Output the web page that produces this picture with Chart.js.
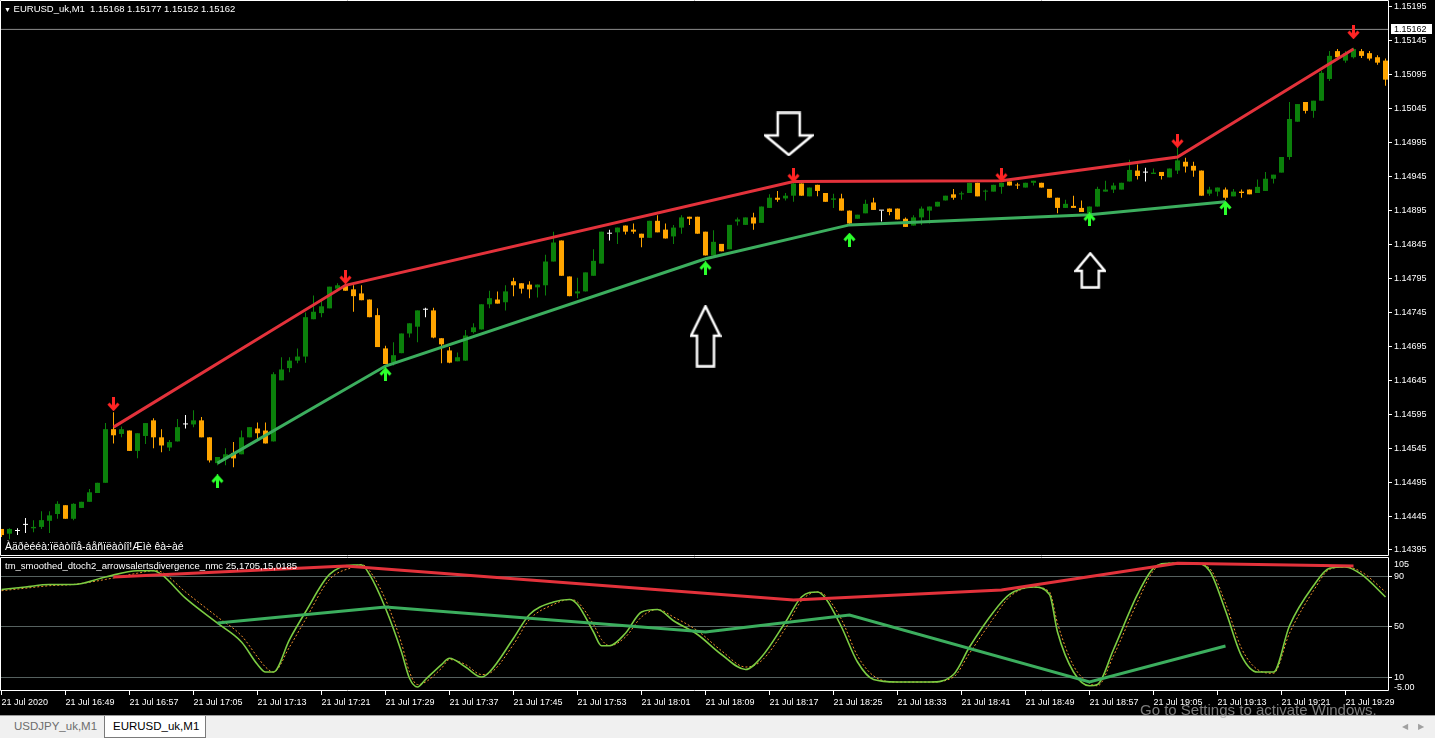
<!DOCTYPE html>
<html>
<head>
<meta charset="utf-8">
<script src="https://cdn.jsdelivr.net/npm/chart.js@4.4.1/dist/chart.umd.min.js"></script>
<style>
  html, body { margin: 0; padding: 0; background: #000; width: 1435px; height: 738px; overflow: hidden; font-family: "Liberation Sans", Arial, sans-serif; }
  canvas { position: absolute; left: 0; }
  #main { top: 0; }
  #osc { top: 557px; }
  .txt { position: absolute; color: #fff; font-size: 9.5px; line-height: 12px; white-space: pre; }
  #tabs { position: absolute; left: 0; top: 715px; width: 1435px; height: 23px; background: #f0f0f0; border-top: 1px solid #9a9a9a; box-sizing: border-box; }
  .tab { position: absolute; top: 0; height: 21px; font-size: 11.5px; line-height: 20px; padding: 0 8px; }
  #tab1 { left: 6px; color: #6d6d6d; }
  #tab2 { left: 104px; width: 84px; background: #fff; color: #000; border: 1px solid #7a7a7a; border-top: none; }
  #wm { position: absolute; left: 1140px; top: 701px; font-size: 15px; color: rgba(175,175,175,0.7); white-space: pre; }
  #scroll { position: absolute; left: 1402px; top: 722px; font-size: 8px; color: #a0a0a0; letter-spacing: 10px; }
</style>
</head>
<body>
<canvas id="main" width="1435" height="556"></canvas>
<canvas id="osc" width="1435" height="158"></canvas>
<div class="txt" style="left:4px;top:3px;"><span style="font-size:7px;">▼</span> EURUSD_uk,M1  1.15168 1.15177 1.15152 1.15162</div>
<div class="txt" style="left:5px;top:540px;font-size:10.5px;">Àäðèééà:ïëàòíîå-áåñïëàòíî!Æìè êà÷àé</div>
<div class="txt" style="left:5px;top:560px;">tm_smoothed_dtoch2_arrowsalertsdivergence_nmc 25,1705,15,0185</div>
<div id="tabs">
  <div class="tab" id="tab1">USDJPY_uk,M1</div>
  <div class="tab" id="tab2">EURUSD_uk,M1</div>
</div>
<div id="wm">Go to Settings to activate Windows.</div>
<div id="scroll">◀▶</div>
<script>
// one-minute candles, 21 Jul 2020 16:41 .. 19:34
const openPrice = [
  1.14426,1.14419,1.14423,1.14432,1.14427,1.14429,1.14438,1.14448,1.14461,1.14441,
  1.14457,1.14466,1.14479,1.14494,1.14573,1.14566,1.14571,1.14541,1.14563,1.14586,
  1.14561,1.14546,1.14555,1.14580,1.14580,1.14586,1.14561,1.14523,1.14529,1.14538,
  1.14536,1.14561,1.14574,1.14571,1.14555,1.14645,1.14663,1.14674,1.14680,1.14735,
  1.14744,1.14751,1.14780,1.14785,1.14779,1.14773,1.14764,1.14741,1.14692,1.14671,
  1.14685,1.14714,1.14724,1.14749,1.14748,1.14707,1.14689,1.14673,1.14674,1.14716,
  1.14720,1.14757,1.14764,1.14760,1.14791,1.14788,1.14786,1.14782,1.14785,1.14820,
  1.14851,1.14798,1.14773,1.14776,1.14799,1.14817,1.14861,1.14863,1.14873,1.14867,
  1.14861,1.14855,1.14880,1.14867,1.14857,1.14870,1.14886,1.14886,1.14864,1.14829,
  1.14846,1.14838,1.14879,1.14874,1.14885,1.14877,1.14899,1.14914,1.14913,1.14917,
  1.14935,1.14916,1.14933,1.14921,1.14911,1.14913,1.14895,1.14883,1.14891,1.14907,
  1.14895,1.14898,1.14898,1.14883,1.14873,1.14885,1.14895,1.14901,1.14910,1.14919,
  1.14919,1.14921,1.14936,1.14923,1.14923,1.14930,1.14938,1.14933,1.14929,1.14936,
  1.14936,1.14927,1.14914,1.14899,1.14902,1.14899,1.14891,1.14901,1.14923,1.14926,
  1.14926,1.14938,1.14954,1.14951,1.14949,1.14952,1.14944,1.14954,1.14967,1.14961,
  1.14954,1.14920,1.14923,1.14926,1.14916,1.14923,1.14926,1.14921,1.14924,1.14942,
  1.14951,1.14974,1.15026,1.15055,1.15042,1.15057,1.15089,1.15130,1.15116,1.15121,
  1.15130,1.15127,1.15121,1.15116
];
const highPrice = [
  1.14426,1.14427,1.14427,1.14442,1.14439,1.14452,1.14452,1.14467,1.14461,1.14464,
  1.14466,1.14485,1.14494,1.14582,1.14598,1.14577,1.14571,1.14567,1.14582,1.14589,
  1.14573,1.14557,1.14588,1.14594,1.14601,1.14591,1.14561,1.14532,1.14545,1.14554,
  1.14571,1.14576,1.14583,1.14583,1.14657,1.14679,1.14679,1.14692,1.14745,1.14770,
  1.14763,1.14783,1.14788,1.14788,1.14785,1.14785,1.14764,1.14751,1.14696,1.14701,
  1.14714,1.14729,1.14748,1.14752,1.14752,1.14707,1.14694,1.14686,1.14719,1.14729,
  1.14757,1.14777,1.14776,1.14785,1.14796,1.14788,1.14791,1.14786,1.14830,1.14864,
  1.14851,1.14798,1.14796,1.14804,1.14838,1.14864,1.14867,1.14870,1.14873,1.14876,
  1.14861,1.14880,1.14888,1.14876,1.14874,1.14888,1.14886,1.14886,1.14864,1.14866,
  1.14846,1.14874,1.14885,1.14885,1.14892,1.14901,1.14919,1.14924,1.14921,1.14939,
  1.14935,1.14929,1.14933,1.14921,1.14920,1.14920,1.14895,1.14889,1.14911,1.14914,
  1.14895,1.14898,1.14898,1.14885,1.14888,1.14901,1.14901,1.14908,1.14917,1.14927,
  1.14923,1.14936,1.14936,1.14926,1.14933,1.14936,1.14938,1.14936,1.14936,1.14939,
  1.14936,1.14927,1.14914,1.14911,1.14917,1.14910,1.14901,1.14930,1.14939,1.14936,
  1.14936,1.14970,1.14963,1.14958,1.14957,1.14952,1.14957,1.14988,1.14973,1.14967,
  1.14954,1.14930,1.14929,1.14929,1.14927,1.14926,1.14926,1.14941,1.14952,1.14948,
  1.14974,1.15055,1.15052,1.15055,1.15057,1.15101,1.15130,1.15133,1.15130,1.15135,
  1.15133,1.15130,1.15124,1.15119
];
const lowPrice = [
  1.14414,1.14411,1.14417,1.14420,1.14421,1.14426,1.14420,1.14441,1.14441,1.14439,
  1.14457,1.14466,1.14479,1.14494,1.14552,1.14561,1.14541,1.14530,1.14551,1.14545,
  1.14539,1.14541,1.14555,1.14574,1.14576,1.14561,1.14524,1.14520,1.14520,1.14517,
  1.14536,1.14561,1.14558,1.14552,1.14555,1.14645,1.14657,1.14670,1.14671,1.14735,
  1.14738,1.14751,1.14780,1.14777,1.14746,1.14763,1.14738,1.14694,1.14669,1.14667,
  1.14685,1.14708,1.14701,1.14738,1.14707,1.14670,1.14670,1.14673,1.14674,1.14714,
  1.14720,1.14751,1.14758,1.14748,1.14769,1.14773,1.14766,1.14767,1.14770,1.14820,
  1.14799,1.14769,1.14766,1.14776,1.14799,1.14817,1.14851,1.14846,1.14860,1.14861,
  1.14841,1.14855,1.14863,1.14854,1.14846,1.14861,1.14874,1.14861,1.14829,1.14829,
  1.14835,1.14838,1.14873,1.14874,1.14867,1.14877,1.14899,1.14908,1.14910,1.14908,
  1.14917,1.14916,1.14916,1.14908,1.14899,1.14895,1.14874,1.14883,1.14891,1.14896,
  1.14879,1.14888,1.14882,1.14871,1.14873,1.14874,1.14876,1.14901,1.14910,1.14911,
  1.14911,1.14921,1.14916,1.14910,1.14923,1.14920,1.14932,1.14927,1.14929,1.14932,
  1.14929,1.14914,1.14891,1.14899,1.14899,1.14893,1.14891,1.14901,1.14923,1.14921,
  1.14926,1.14938,1.14941,1.14938,1.14949,1.14941,1.14944,1.14949,1.14951,1.14945,
  1.14917,1.14917,1.14916,1.14911,1.14916,1.14914,1.14919,1.14921,1.14924,1.14935,
  1.14951,1.14970,1.15026,1.15038,1.15032,1.15057,1.15086,1.15119,1.15113,1.15119,
  1.15120,1.15116,1.15110,1.15079
];
const closePrice = [
  1.14417,1.14426,1.14423,1.14432,1.14429,1.14439,1.14446,1.14463,1.14441,1.14463,
  1.14466,1.14480,1.14494,1.14573,1.14564,1.14573,1.14541,1.14567,1.14582,1.14561,
  1.14549,1.14554,1.14576,1.14580,1.14586,1.14561,1.14527,1.14532,1.14536,1.14530,
  1.14561,1.14576,1.14567,1.14552,1.14654,1.14661,1.14674,1.14680,1.14738,1.14746,
  1.14754,1.14783,1.14785,1.14777,1.14769,1.14763,1.14738,1.14694,1.14669,1.14682,
  1.14714,1.14729,1.14748,1.14749,1.14708,1.14698,1.14671,1.14679,1.14711,1.14723,
  1.14757,1.14766,1.14758,1.14776,1.14785,1.14780,1.14779,1.14786,1.14820,1.14848,
  1.14799,1.14769,1.14776,1.14804,1.14821,1.14864,1.14861,1.14870,1.14864,1.14864,
  1.14855,1.14880,1.14863,1.14854,1.14870,1.14885,1.14883,1.14861,1.14829,1.14849,
  1.14835,1.14874,1.14882,1.14885,1.14876,1.14901,1.14914,1.14911,1.14917,1.14935,
  1.14917,1.14929,1.14924,1.14908,1.14913,1.14895,1.14876,1.14889,1.14905,1.14896,
  1.14895,1.14893,1.14882,1.14871,1.14885,1.14898,1.14901,1.14908,1.14917,1.14914,
  1.14920,1.14936,1.14916,1.14924,1.14933,1.14936,1.14932,1.14932,1.14936,1.14939,
  1.14929,1.14914,1.14899,1.14905,1.14899,1.14893,1.14901,1.14927,1.14926,1.14932,
  1.14936,1.14955,1.14946,1.14951,1.14951,1.14946,1.14957,1.14969,1.14960,1.14954,
  1.14917,1.14926,1.14929,1.14914,1.14923,1.14921,1.14919,1.14930,1.14942,1.14948,
  1.14974,1.15030,1.15052,1.15042,1.15057,1.15098,1.15123,1.15121,1.15127,1.15133,
  1.15123,1.15119,1.15113,1.15088
];
const bidPrice = 1.15162;

// fractal highs / lows and the trend lines through them
const resIdx = [14, 43, 99, 125, 147, 169];
const resLine = [1.14576, 1.14785, 1.14938, 1.14939, 1.14974, 1.15133];
const resArrow = [1.14610, 1.14797, 1.14947, 1.14948, 1.14998, 1.15158];
const supIdx = [27, 48, 88, 106, 136, 153];
const supLine = [1.14523, 1.14666, 1.14824, 1.14874, 1.14889, 1.14908];
const supArrow = [1.14496, 1.14654, 1.14810, 1.14852, 1.14882, 1.14899];

// hand-drawn hollow arrows
const noteIdx = [98.4, 88, 136.1];
const notePrice = [1.15008, 1.14710, 1.14807];

// oscillator sub-window
const oscIdx = [0,3,6,9,13,17,19,20,23,27,30,32,33,34,36,38,41,44,45,46,48,50,51,52,53,55,56,58,60,61,64,66,69,71,72,74,75,76,78,80,82,84,87,90,93,95,98,100,102,103,105,107,109,112,116,119,121,124,126,129,131,132,134,136,137,139,142,144,146,149,151,153,155,157,159,161,164,166,168,170,173];
const oscMain = [80,82,84,84,90,95,95,92,73,53,38,20,14,14,40,62,92,99.6,99.6,92,65,30,9,2,8,20,25,18,10,14,41,60,70,72,68,46,35,35,45,62,64,55,44,28,16,26,54,74,78,73,50,22,8,6,6,12,34,62,76,82,76,46,14,3,4,32,76,97,101,101,95,63,27,14,14,51,83,97,98,92,74];
const oscSignal = [79,81,83,84,88,93,95,94,78,58,43,26,18,14,34,56,88,98,100,95,72,37,14,4,6,17,24,20,12,13,36,56,68,72,70,52,40,35,42,58,64,58,47,31,18,23,49,71,78,75,56,27,11,6,6,10,29,57,74,82,78,53,19,5,3,27,70,95,101,101,97,69,33,16,13,45,79,96,98,94,78];
const oscResVal = [90, 98.8, 71.6, 79.6, 101, 98.8];
const oscSupVal = [53.2, 66, 46, 59.6, 6, 34.8];
const oscLevels = [90, 50, 10];
const oscEdgeLabels = ['105', '-5.00'];

const priceTicks = [1.15195,1.15145,1.15095,1.15045,1.14995,1.14945,1.14895,1.14845,1.14795,1.14745,1.14695,1.14645,1.14595,1.14545,1.14495,1.14445,1.14395];
const timeTickIdx = [0,8,16,24,32,40,48,56,64,72,80,88,96,104,112,120,128,136,144,152,160,168];
const timeLabels = ['21 Jul 2020','21 Jul 16:49','21 Jul 16:57','21 Jul 17:05','21 Jul 17:13','21 Jul 17:21','21 Jul 17:29','21 Jul 17:37','21 Jul 17:45','21 Jul 17:53','21 Jul 18:01','21 Jul 18:09','21 Jul 18:17','21 Jul 18:25','21 Jul 18:33','21 Jul 18:41','21 Jul 18:49','21 Jul 18:57','21 Jul 19:05','21 Jul 19:13','21 Jul 19:21','21 Jul 19:29'];

const BULL = '#0b800b';
const BEAR = '#ffa500';
const DOJI = '#ffffff';
const RES_COLOR = '#e3323b';
const SUP_COLOR = '#3cae5e';
const X_MIN = -0.1875;
const X_MAX = 173.3125;
const FONT = { family: '"Liberation Sans", Arial, sans-serif', size: 9 };

Chart.defaults.font.family = FONT.family;
Chart.defaults.font.size = 9;

function candleColor(i) {
    if (closePrice[i] > openPrice[i]) return BULL;
    if (closePrice[i] < openPrice[i]) return BEAR;
    return DOJI;
}

function makeFractalArrow(color, up) {
    const c = document.createElement('canvas');
    c.width = 13;
    c.height = 14;
    const g = c.getContext('2d');
    if (!up) {
        g.translate(0, 14);
        g.scale(1, -1);
    }
    g.fillStyle = color;
    g.strokeStyle = color;
    g.fillRect(5, 3, 3, 11);
    g.lineWidth = 3;
    g.beginPath();
    g.moveTo(1.5, 7.5);
    g.lineTo(6.5, 2);
    g.lineTo(11.5, 7.5);
    g.stroke();
    return c;
}

function makeOutlineArrow(w, h, headH, shaftW, up) {
    const c = document.createElement('canvas');
    c.width = w;
    c.height = h;
    const g = c.getContext('2d');
    if (!up) {
        g.translate(0, h);
        g.scale(1, -1);
    }
    const m = 1.5, cx = w / 2, s = shaftW / 2;
    g.beginPath();
    g.moveTo(cx, m);
    g.lineTo(w - m, headH);
    g.lineTo(cx + s, headH);
    g.lineTo(cx + s, h - m);
    g.lineTo(cx - s, h - m);
    g.lineTo(cx - s, headH);
    g.lineTo(m, headH);
    g.closePath();
    g.fillStyle = '#000';
    g.fill();
    g.strokeStyle = '#fff';
    g.lineWidth = 2.5;
    g.lineJoin = 'miter';
    g.stroke();
    return c;
}

const framePlugin = {
    id: 'frame',
    afterDraw(chart) {
        const { ctx, chartArea: a } = chart;
        ctx.save();
        ctx.strokeStyle = '#fff';
        ctx.lineWidth = 1;
        ctx.beginPath();
        ctx.moveTo(a.left + 0.5, a.bottom - 0.5);
        ctx.lineTo(a.left + 0.5, a.top + 0.5);
        ctx.lineTo(a.right + 0.5, a.top + 0.5);
        ctx.lineTo(a.right + 0.5, a.bottom - 0.5);
        ctx.lineTo(a.left + 0.5, a.bottom - 0.5);
        ctx.stroke();
        ctx.restore();
    }
};

const bidPlugin = {
    id: 'bidLabel',
    afterDraw(chart) {
        const { ctx, chartArea: a } = chart;
        const y = Math.round(chart.scales.y.getPixelForValue(bidPrice));
        ctx.save();
        ctx.fillStyle = '#fff';
        ctx.fillRect(a.right + 2, y - 6, 43, 12);
        ctx.strokeStyle = '#000';
        ctx.strokeRect(a.right + 2.5, y - 5.5, 42, 11);
        ctx.fillStyle = '#000';
        ctx.font = '9px ' + FONT.family;
        ctx.textBaseline = 'middle';
        ctx.fillText(bidPrice.toFixed(5), a.right + 6, y + 0.5);
        ctx.restore();
    }
};

const oscEdgePlugin = {
    id: 'oscEdge',
    afterDraw(chart) {
        const { ctx, chartArea: a } = chart;
        ctx.save();
        ctx.fillStyle = '#fff';
        ctx.font = '9px ' + FONT.family;
        ctx.textBaseline = 'middle';
        ctx.fillText(oscEdgeLabels[0], a.right + 6, a.top + 8);
        ctx.fillText(oscEdgeLabels[1], a.right + 6, a.bottom - 3);
        ctx.restore();
    }
};

const candleIdx = openPrice.map((_, i) => i);
const colors = candleIdx.map(candleColor);
const redArrow = makeFractalArrow('#ff2424', false);
const greenArrow = makeFractalArrow('#2cff2c', true);
const noteStyles = [
    makeOutlineArrow(50, 45, 21, 22, false),
    makeOutlineArrow(32, 63, 31, 17, true),
    makeOutlineArrow(32, 37, 19, 17, true)
];

new Chart(document.getElementById('main'), {
    type: 'bar',
    data: {
        datasets: [
            {
                type: 'line',
                data: noteIdx.map((x, k) => ({ x, y: notePrice[k] })),
                showLine: false,
                pointStyle: noteStyles,
                pointRadius: 10,
                order: 0
            },
            {
                type: 'line',
                data: resIdx.map((x, k) => ({ x, y: resArrow[k] })),
                showLine: false,
                pointStyle: redArrow,
                pointRadius: 6,
                order: 0
            },
            {
                type: 'line',
                data: supIdx.map((x, k) => ({ x, y: supArrow[k] })),
                showLine: false,
                pointStyle: greenArrow,
                pointRadius: 6,
                order: 0
            },
            {
                type: 'line',
                data: resIdx.map((x, k) => ({ x, y: resLine[k] })),
                borderColor: RES_COLOR,
                borderWidth: 3,
                pointRadius: 0,
                order: 1
            },
            {
                type: 'line',
                data: supIdx.map((x, k) => ({ x, y: supLine[k] })),
                borderColor: SUP_COLOR,
                borderWidth: 3,
                pointRadius: 0,
                order: 1
            },
            {
                type: 'bar',
                data: candleIdx.map(i => ({ x: i, y: [openPrice[i], closePrice[i]] })),
                backgroundColor: colors,
                barThickness: 5,
                minBarLength: 1,
                grouped: false,
                inflateAmount: 0,
                order: 2
            },
            {
                type: 'bar',
                data: candleIdx.map(i => ({ x: i, y: [lowPrice[i], highPrice[i]] })),
                backgroundColor: colors,
                barThickness: 1,
                grouped: false,
                inflateAmount: 0,
                order: 3
            },
            {
                type: 'line',
                data: [{ x: X_MIN, y: bidPrice }, { x: X_MAX, y: bidPrice }],
                borderColor: '#8c8c8c',
                borderWidth: 1,
                pointRadius: 0,
                order: 4
            }
        ]
    },
    options: {
        responsive: false,
        animation: false,
        devicePixelRatio: 1,
        layout: { padding: 0, autoPadding: false },
        plugins: { legend: { display: false }, tooltip: { enabled: false } },
        scales: {
            x: { type: 'linear', display: false, min: X_MIN, max: X_MAX, offset: false },
            y: {
                position: 'right',
                min: 1.1438616,
                max: 1.1520531,
                afterFit(s) { s.width = 47; s.paddingTop = 0; s.paddingBottom = 0; },
                afterBuildTicks(s) { s.ticks = priceTicks.map(v => ({ value: v })); },
                ticks: { color: '#fff', font: FONT, padding: 2, callback: v => v.toFixed(5) },
                grid: { drawOnChartArea: false, tickColor: '#fff', tickLength: 4 },
                border: { display: false }
            }
        }
    },
    plugins: [framePlugin, bidPlugin]
});

new Chart(document.getElementById('osc'), {
    type: 'line',
    data: {
        datasets: [
            {
                data: oscIdx.map((x, k) => ({ x, y: oscMain[k] })),
                borderColor: '#7ccc42',
                borderWidth: 1.6,
                pointRadius: 0,
                cubicInterpolationMode: 'monotone',
                order: 2
            },
            {
                data: resIdx.map((x, k) => ({ x, y: oscResVal[k] })),
                borderColor: RES_COLOR,
                borderWidth: 3,
                pointRadius: 0,
                order: 1
            },
            {
                data: supIdx.map((x, k) => ({ x, y: oscSupVal[k] })),
                borderColor: SUP_COLOR,
                borderWidth: 3,
                pointRadius: 0,
                order: 1
            },
            {
                data: oscIdx.map((x, k) => ({ x, y: oscSignal[k] })),
                borderColor: '#f0902c',
                borderWidth: 1,
                borderDash: [2, 2],
                pointRadius: 0,
                cubicInterpolationMode: 'monotone',
                order: 3
            }
        ]
    },
    options: {
        responsive: false,
        animation: false,
        devicePixelRatio: 1,
        layout: { padding: 0, autoPadding: false },
        plugins: { legend: { display: false }, tooltip: { enabled: false } },
        scales: {
            x: {
                type: 'linear',
                min: X_MIN,
                max: X_MAX,
                afterFit(s) { s.height = 24; s.paddingLeft = 0; s.paddingRight = 0; },
                afterBuildTicks(s) { s.ticks = timeTickIdx.map(v => ({ value: v })); },
                ticks: { color: '#fff', font: FONT, autoSkip: false, maxRotation: 0, align: 'start', padding: 2, callback: (v, i) => timeLabels[i] },
                grid: { drawOnChartArea: false, tickColor: '#fff', tickLength: 4 },
                border: { display: false }
            },
            y: {
                position: 'right',
                min: -1.16,
                max: 105.94,
                afterFit(s) { s.width = 47; s.paddingTop = 0; s.paddingBottom = 0; },
                afterBuildTicks(s) { s.ticks = oscLevels.map(v => ({ value: v })); },
                ticks: { color: '#fff', font: FONT, padding: 2 },
                grid: { color: '#56615f', tickColor: '#fff', tickLength: 4 },
                border: { display: false }
            }
        }
    },
    plugins: [framePlugin, oscEdgePlugin]
});
</script>
</body>
</html>
